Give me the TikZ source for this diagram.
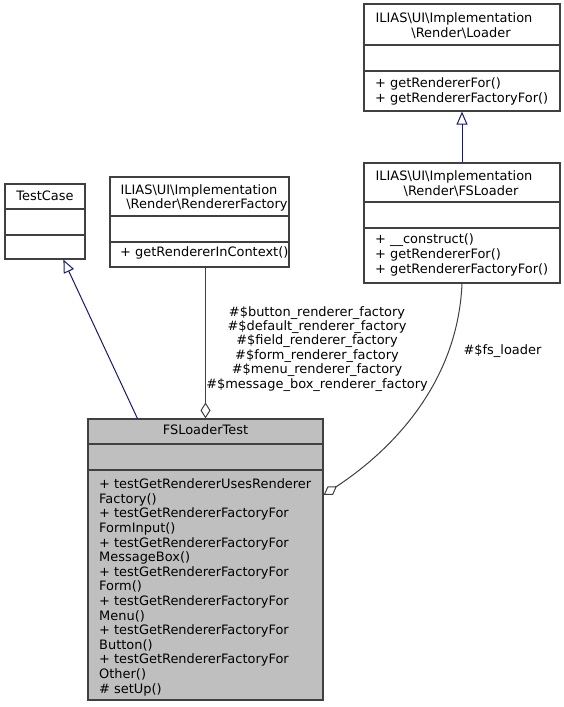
\documentclass[tikz,border=0pt]{standalone}
\usepackage{fontspec}
\setmainfont{DejaVu Sans}
\usetikzlibrary{arrows.meta}
\definecolor{bd}{HTML}{404040}
\definecolor{inh}{HTML}{191970}
\definecolor{fillg}{HTML}{BFBFBF}
\newcommand\ftx{\fontsize{12.95}{14.6}\selectfont}
\begin{document}
\begin{tikzpicture}[x=1pt,y=-1pt,
  cls/.style={draw=bd, line width=1.2pt, fill=white, inner sep=0, rectangle},
  sepl/.style={draw=bd, line width=1.2pt},
  txt/.style={inner sep=0, font=\ftx},
  inhe/.style={draw=inh, line width=1pt, -{Triangle[open, length=13pt, width=11pt]}},
  agg/.style={draw=bd, line width=1pt, {Diamond[open, length=16pt, width=10pt]}-}]
\useasboundingbox (0,0) rectangle (564,707);
\fill[white] (0,0) rectangle (564,707);

% boxes
\node[cls, minimum width=80pt, minimum height=75pt] (tc) at (45,221.5) {};
\node[cls, minimum width=179pt, minimum height=90pt] (rf) at (199.5,222) {};
\node[cls, minimum width=196pt, minimum height=107pt] (ld) at (462,57.5) {};
\node[cls, minimum width=196pt, minimum height=120pt] (fsl) at (462,223) {};
\node[cls, fill=fillg, minimum width=235pt, minimum height=281pt] (fst) at (205.5,559.5) {};

% separators
\draw[sepl] (5,209) -- (85,209);
\draw[sepl] (5,235) -- (85,235);
\draw[sepl] (110,216) -- (289,216);
\draw[sepl] (110,242) -- (289,242);
\draw[sepl] (364,45) -- (560,45);
\draw[sepl] (364,71) -- (560,71);
\draw[sepl] (364,202) -- (560,202);
\draw[sepl] (364,228) -- (560,228);
\draw[sepl] (88,444) -- (323,444);
\draw[sepl] (88,470) -- (323,470);

% titles
\node[txt, anchor=base] (tct) at (45,200) {TestCase};
\node[txt, anchor=base] (rft1) at (199,194.5) {ILIAS\textbackslash UI\textbackslash Implementation};
\node[txt, anchor=base] (rft2) at (207,208.6) {\textbackslash Render\textbackslash RendererFactory};
\node[txt, anchor=base west] (rfm1) at (120,256.5) {+ getRendererInContext()};

\node[txt, anchor=base] (ldt1) at (454,22.6) {ILIAS\textbackslash UI\textbackslash Implementation};
\node[txt, anchor=base] (ldt2) at (461,37.6) {\textbackslash Render\textbackslash Loader};
\node[txt, anchor=base west] (ldm1) at (375,87.6) {+ getRendererFor()};
\node[txt, anchor=base west] (ldm2) at (375,102.6) {+ getRendererFactoryFor()};

\node[txt, anchor=base] (fslt1) at (454,180.3) {ILIAS\textbackslash UI\textbackslash Implementation};
\node[txt, anchor=base] (fslt2) at (461,195.3) {\textbackslash Render\textbackslash FSLoader};
\node[txt, anchor=base west] (fslm1) at (375,243.6) {+ \_\_construct()};
\node[txt, anchor=base west] (fslm2) at (375,258.6) {+ getRendererFor()};
\node[txt, anchor=base west] (fslm3) at (375,273.6) {+ getRendererFactoryFor()};

\node[txt, anchor=base] (fstt) at (205.5,434.3) {FSLoaderTest};
\foreach \t [count=\i] in {+ testGetRendererUsesRenderer, Factory(), + testGetRendererFactoryFor, FormInput(), + testGetRendererFactoryFor, MessageBox(), + testGetRendererFactoryFor, Form(), + testGetRendererFactoryFor, Menu(), + testGetRendererFactoryFor, Button(), + testGetRendererFactoryFor, Other(), \# setUp()}
  \node[txt, anchor=base west] (fstm\i) at (99,{488.6+14.6*(\i-1)}) {\t};

% connectors
\draw[inhe] ([xshift=50pt]fst.north west) -- ([xshift=59pt]tc.south west);
\draw[inhe] (fsl.north) -- (ld.south);
\draw[agg] (fst.north) -- (rf.south -| fst.north);
\draw[agg] ([yshift=64.5pt]fst.east) .. controls (398,446) and (458,378) .. (fsl.south);

% labels
\node[txt, anchor=base] (lab1) at (317,316) {\#\$button\_renderer\_factory};
\node[txt, anchor=base] (lab2) at (317,330.4) {\#\$default\_renderer\_factory};
\node[txt, anchor=base] (lab3) at (317,344.8) {\#\$field\_renderer\_factory};
\node[txt, anchor=base] (lab4) at (317,359.2) {\#\$form\_renderer\_factory};
\node[txt, anchor=base] (lab5) at (317,373.6) {\#\$menu\_renderer\_factory};
\node[txt, anchor=base] (lab6) at (317,388) {\#\$message\_box\_renderer\_factory};
\node[txt, anchor=base] (lab7) at (502.5,354) {\#\$fs\_loader};
\end{tikzpicture}
\end{document}
